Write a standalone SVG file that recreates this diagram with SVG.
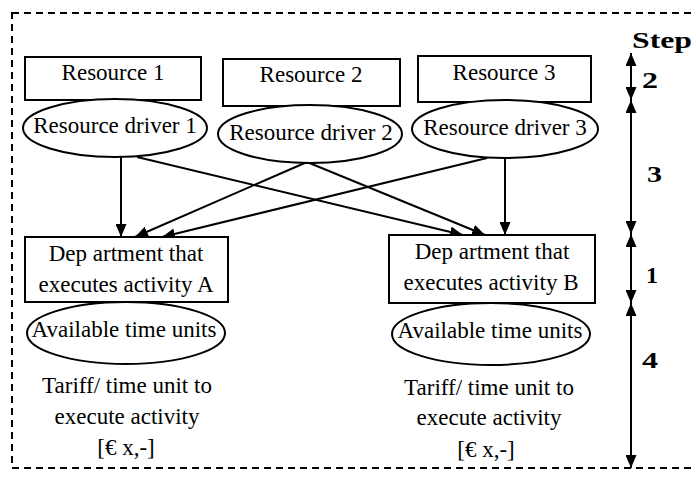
<svg xmlns="http://www.w3.org/2000/svg" width="696" height="479" viewBox="0 0 696 479">
<defs>
<marker id="ah" markerUnits="userSpaceOnUse" markerWidth="13" markerHeight="11" refX="13" refY="5.5" orient="auto-start-reverse" viewBox="0 0 13 11">
<path d="M0,0 L13,5.5 L0,11 z" fill="#000"/>
</marker>
</defs>
<style>
.box{fill:#fff;stroke:#000;stroke-width:2}
.ell{fill:#fff;stroke:#000;stroke-width:2}
.t{font-family:"Liberation Serif","Times New Roman",serif;font-size:23px;fill:#000;text-anchor:middle}
.b{font-family:"Liberation Serif","Times New Roman",serif;font-size:23px;font-weight:bold;fill:#000}
.c{stroke:#000;stroke-width:2;fill:none;marker-end:url(#ah)}
.s{stroke:#000;stroke-width:2;fill:none;marker-start:url(#ah);marker-end:url(#ah)}
</style>
<rect x="12" y="13" width="700" height="455" fill="none" stroke="#000" stroke-width="2" stroke-dasharray="7,5"/>
<g id="connectors">
<line class="c" x1="121" y1="157" x2="121" y2="237"/>
<line class="c" x1="137" y1="157" x2="463" y2="235"/>
<line class="c" x1="307" y1="162" x2="135" y2="237"/>
<line class="c" x1="307" y1="162" x2="485" y2="235"/>
<line class="c" x1="487" y1="158" x2="162" y2="237"/>
<line class="c" x1="505" y1="158" x2="505" y2="235"/>
</g>
<g id="resource1"><rect class="box" x="25" y="57" width="176" height="43"/><text class="t" x="113" y="80">Resource 1</text></g>
<g id="resource2"><rect class="box" x="223" y="59" width="177" height="47"/><text class="t" x="311" y="82">Resource 2</text></g>
<g id="resource3"><rect class="box" x="418" y="56" width="173" height="46"/><text class="t" x="504" y="80">Resource 3</text></g>
<g id="driver1"><ellipse class="ell" cx="115" cy="128" rx="92" ry="29"/><text class="t" x="115" y="133">Resource driver 1</text></g>
<g id="driver2"><ellipse class="ell" cx="310" cy="134" rx="92" ry="29"/><text class="t" x="311" y="140">Resource driver 2</text></g>
<g id="driver3"><ellipse class="ell" cx="505" cy="129" rx="93" ry="29"/><text class="t" x="505" y="135">Resource driver 3</text></g>
<g id="deptA"><rect class="box" x="25" y="237" width="203" height="65"/><text class="t" x="126" y="261">Dep artment that</text><text class="t" x="126" y="292">executes activity A</text></g>
<g id="deptB"><rect class="box" x="389" y="235" width="206" height="68"/><text class="t" x="492" y="259">Dep artment that</text><text class="t" x="491" y="290">executes activity B</text></g>
<g id="timeA"><ellipse class="ell" cx="126" cy="333" rx="99" ry="31"/><text class="t" x="124" y="337">Available time units</text></g>
<g id="timeB"><ellipse class="ell" cx="491" cy="334" rx="99" ry="31"/><text class="t" x="490" y="338">Available time units</text></g>
<g id="tariffA"><text class="t" x="127" y="393">Tariff/ time unit to</text><text class="t" x="127" y="424">execute activity</text><text class="t" x="126" y="455">[€ x,-]</text></g>
<g id="tariffB"><text class="t" x="489" y="395">Tariff/ time unit to</text><text class="t" x="489" y="425">execute activity</text><text class="t" x="486" y="457">[€ x,-]</text></g>
<g id="steps">
<text class="b" x="632" y="48" textLength="60" lengthAdjust="spacingAndGlyphs">Step</text>
<line class="s" x1="631" y1="53" x2="631" y2="100"/>
<line class="s" x1="631" y1="100" x2="631" y2="234"/>
<line class="s" x1="631" y1="234" x2="631" y2="303"/>
<line class="s" x1="631" y1="303" x2="631" y2="468"/>
<text class="b" x="642" y="88" textLength="16" lengthAdjust="spacingAndGlyphs">2</text>
<text class="b" x="647" y="182" textLength="15" lengthAdjust="spacingAndGlyphs">3</text>
<text class="b" x="646" y="283" textLength="12" lengthAdjust="spacingAndGlyphs">1</text>
<text class="b" x="642" y="368" textLength="16" lengthAdjust="spacingAndGlyphs">4</text>
</g>
</svg>
